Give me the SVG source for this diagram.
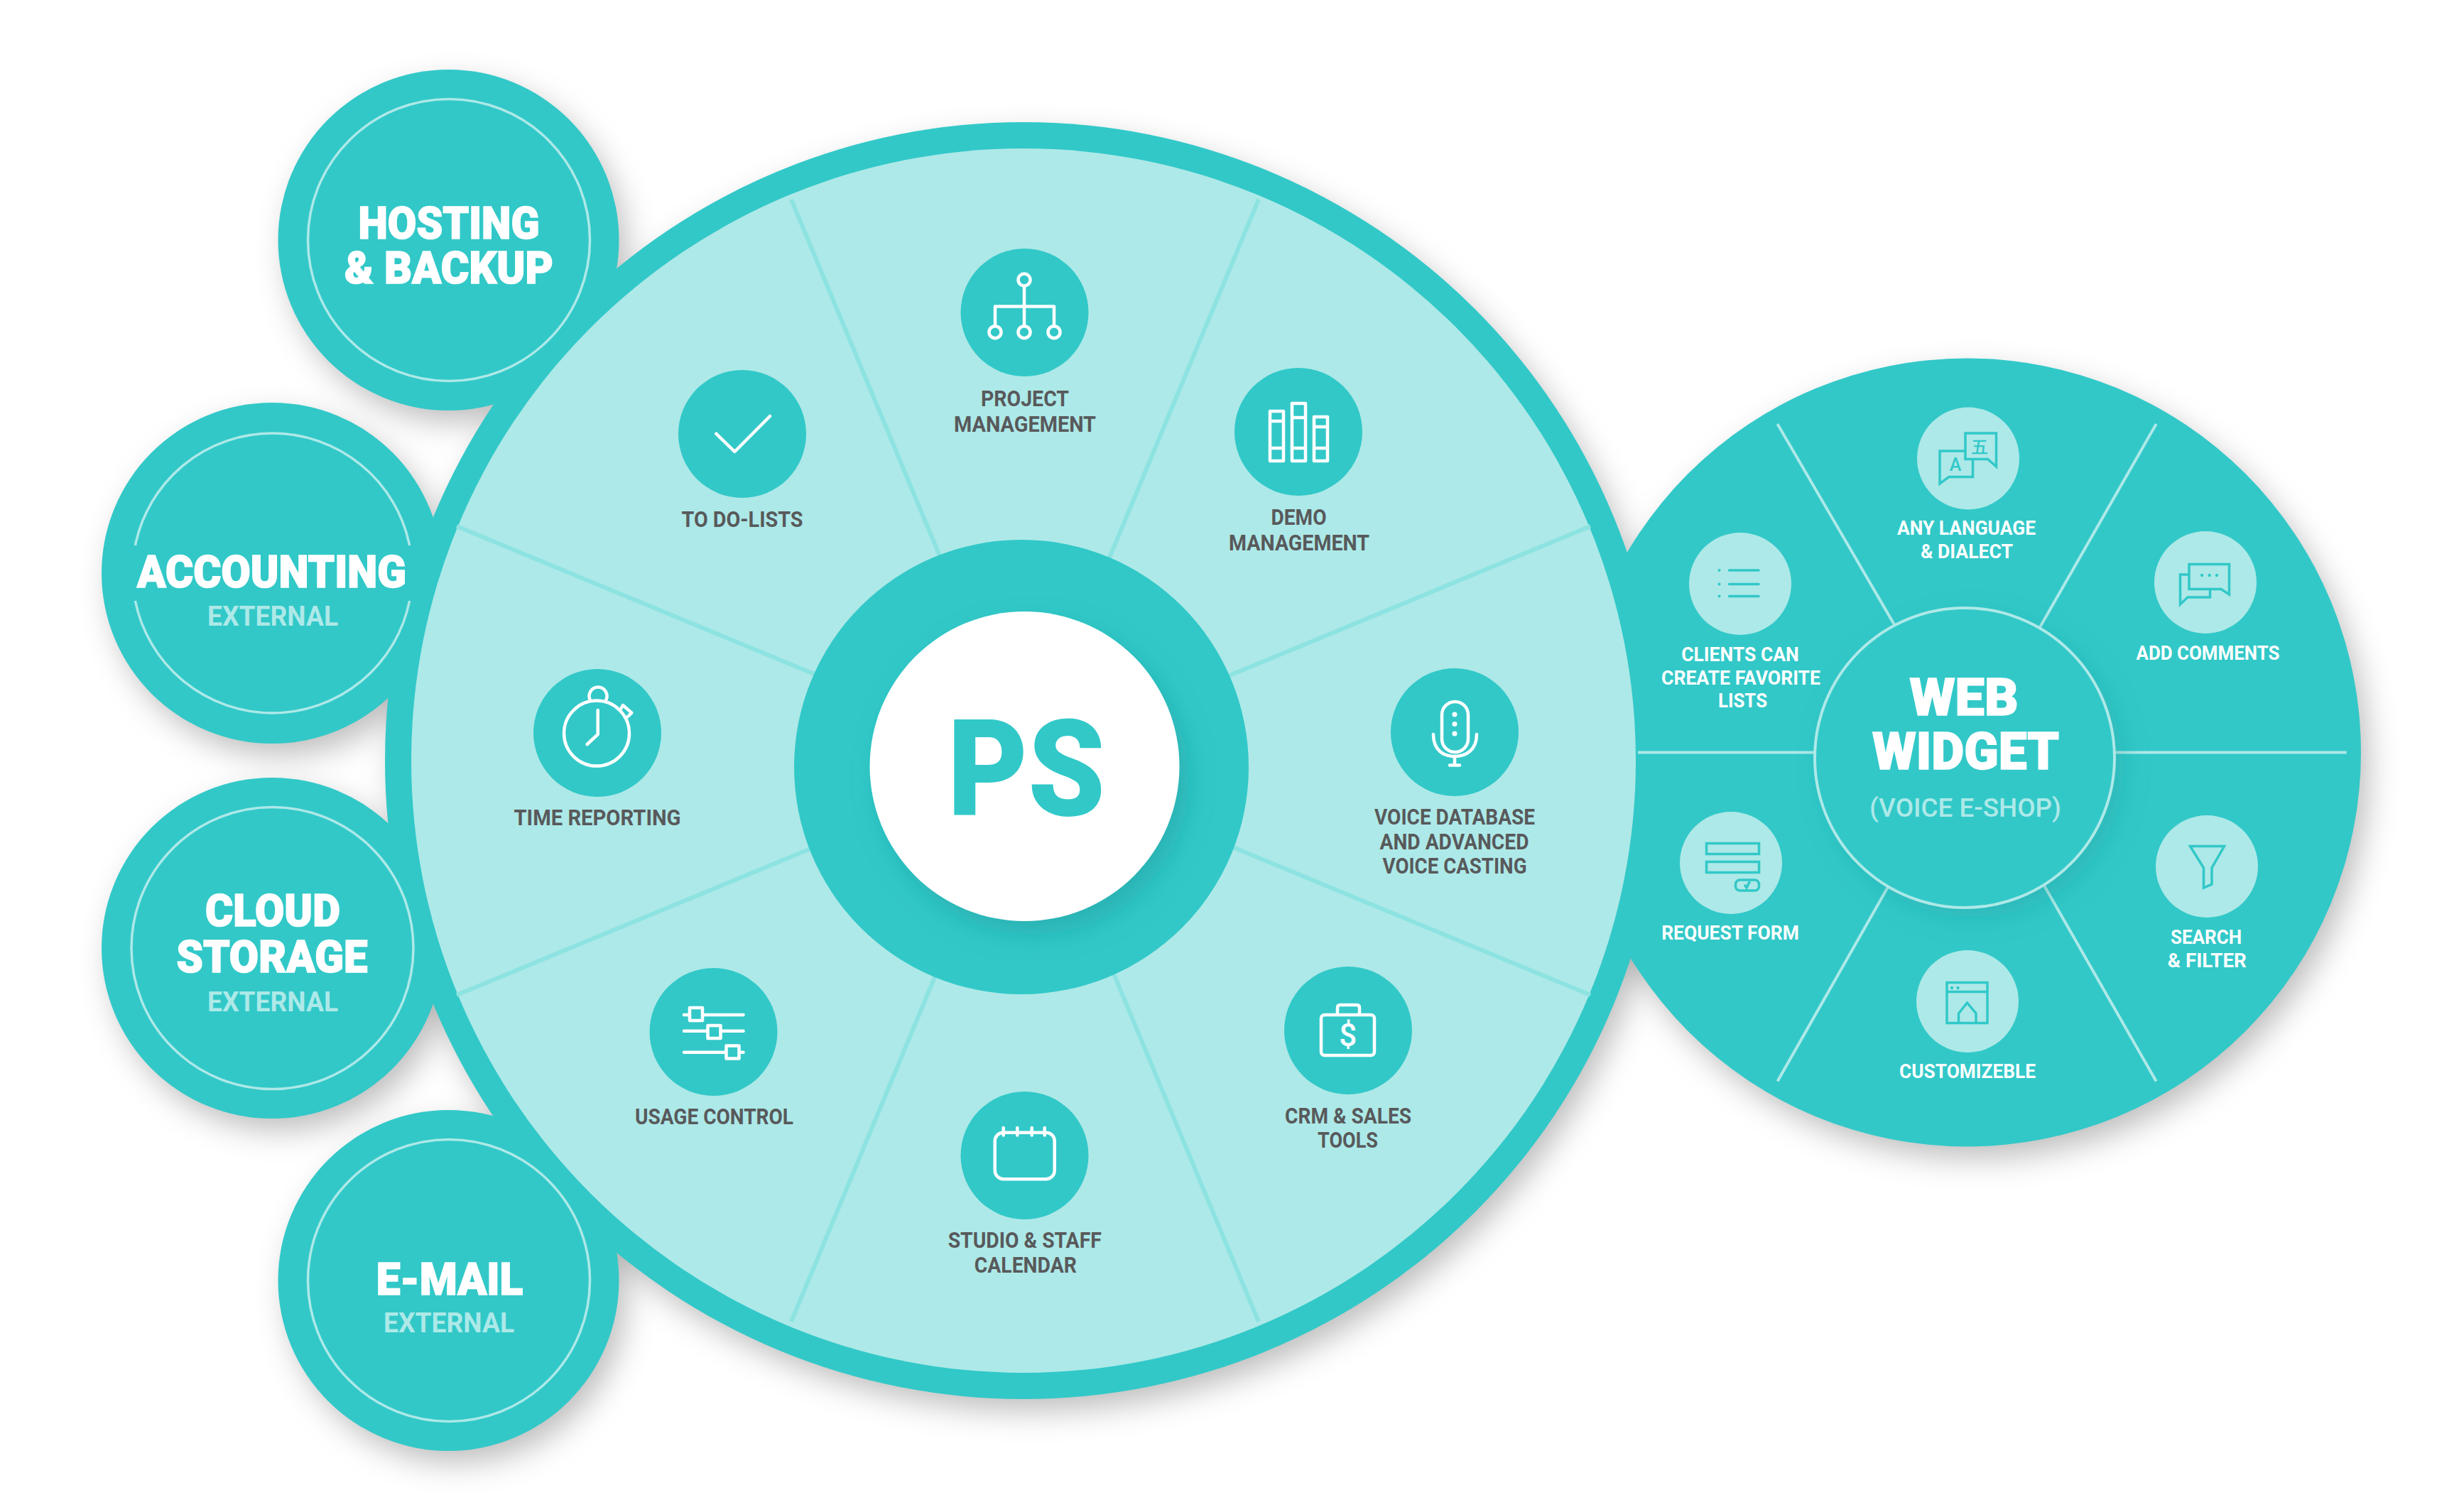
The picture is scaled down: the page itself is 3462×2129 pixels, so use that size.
<svg xmlns="http://www.w3.org/2000/svg" width="3462" height="2129" viewBox="0 0 3462 2129">
<defs>
<filter id="soft" filterUnits="userSpaceOnUse" x="0" y="0" width="3462" height="2129"><feGaussianBlur stdDeviation="22"/></filter>
<filter id="softIn" filterUnits="userSpaceOnUse" x="0" y="0" width="3462" height="2129"><feGaussianBlur stdDeviation="18"/></filter>
</defs>
<style>
text{font-family:Roboto,"Liberation Sans",sans-serif;text-anchor:middle}
.teal{fill:#32c8c8}
.pale{fill:#ade9e8}
.ring{fill:none;stroke:#ade9e8;stroke-width:3.5}
.lbl{font-size:31px;font-weight:700;fill:#58595b}
.wl{font-size:28px;font-weight:700;fill:#fff}
.h{font-size:63px;font-weight:900;fill:#fff;stroke:#fff;stroke-width:1.6}
.ext{font-size:38px;font-weight:700;fill:#ade9e8}
.ic{fill:none;stroke:#fff;stroke-width:4.5;stroke-linecap:round;stroke-linejoin:round}
.wic{fill:none;stroke:#32c8c8;stroke-width:3.5;stroke-linecap:round;stroke-linejoin:miter}
.sp{stroke:#8ce3e1;stroke-width:6;fill:none}
.wsp{stroke:#ade9e8;stroke-width:4;fill:none}
</style>
<rect width="3462" height="2129" fill="#fff"/>
<g id="shadows" filter="url(#soft)" fill="#000" fill-opacity=".26" transform="translate(12 18)">
<circle cx="631.5" cy="338" r="238"/><circle cx="383" cy="807" r="238"/><circle cx="383" cy="1335" r="238"/><circle cx="631.5" cy="1803" r="238"/>
<circle cx="1441" cy="1071" r="897"/><circle cx="2769" cy="1059.5" r="553"/>
</g>
<g id="node-web-widget-base"><circle class="teal" cx="2769" cy="1059.5" r="555"/></g>
<g id="node-platform-ring"><circle class="teal" cx="1441" cy="1071" r="899"/></g>
<g id="node-hosting"><circle class="teal" cx="631.5" cy="338" r="240"/><circle class="ring" cx="632" cy="338" r="198.5"/>
<text class="h" x="632" y="335.5" textLength="255" lengthAdjust="spacingAndGlyphs">HOSTING</text>
<text class="h" x="632" y="399" textLength="294" lengthAdjust="spacingAndGlyphs">&amp; BACKUP</text></g>
<g id="node-accounting"><circle class="teal" cx="383" cy="807" r="240"/><path class="ring" d="M190.4,768A197,197 0 0 1 576.6,768M576.6,846A197,197 0 0 1 190.4,846"/>
<text class="h" x="382.5" y="827" textLength="379" lengthAdjust="spacingAndGlyphs">ACCOUNTING</text>
<text class="ext" x="384" y="881" textLength="184" lengthAdjust="spacingAndGlyphs">EXTERNAL</text></g>
<g id="node-cloud"><circle class="teal" cx="383" cy="1335" r="240"/><circle class="ring" cx="383.5" cy="1335" r="198.5"/>
<text class="h" x="384" y="1304" textLength="190" lengthAdjust="spacingAndGlyphs">CLOUD</text>
<text class="h" x="383" y="1369" textLength="269" lengthAdjust="spacingAndGlyphs">STORAGE</text>
<text class="ext" x="384" y="1423.5" textLength="184" lengthAdjust="spacingAndGlyphs">EXTERNAL</text></g>
<g id="node-email"><circle class="teal" cx="631.5" cy="1803" r="240"/><circle class="ring" cx="632" cy="1803" r="198.5"/>
<text class="h" x="633" y="1823" textLength="206.6" lengthAdjust="spacingAndGlyphs">E-MAIL</text>
<text class="ext" x="632" y="1876" textLength="184" lengthAdjust="spacingAndGlyphs">EXTERNAL</text></g>
<g id="node-platform-disc"><circle class="pale" cx="1441" cy="1071" r="862"/></g>
<g id="connectors">
<path class="sp" d="M1114,281L1772,1861M1772,281L1114,1861M643,741L2239,1401M2239,741L643,1401"/>
<path class="wsp" d="M2306,1059.5H2560M2975,1059.5H3303.6M2502.5,597L2667,879.5M3035.7,597L2871.5,884M2502.5,1522.6L2658,1249M3035.7,1522.6L2878,1247"/>
</g>
<g id="node-ps">
<circle class="teal" cx="1438" cy="1080" r="320"/>
<circle cx="1455" cy="1097" r="218" fill="#1f8f92" fill-opacity=".4" filter="url(#softIn)"/>
<circle cx="1442.5" cy="1079" r="218" fill="#fff"/>
<text x="1445" y="1148" font-size="190" font-weight="900" fill="#32c8c8" textLength="222" lengthAdjust="spacingAndGlyphs">PS</text>
</g>
<g id="node-web-widget">
<circle cx="2778" cy="1080" r="211" fill="#1f8f92" fill-opacity=".3" filter="url(#softIn)"/>
<circle class="teal" cx="2766" cy="1067" r="211" stroke="#ade9e8" stroke-width="4"/>
<text class="h" x="2765" y="1006.7" style="font-size:72px" textLength="153" lengthAdjust="spacingAndGlyphs">WEB</text>
<text class="h" x="2767.5" y="1082.6" style="font-size:72px" textLength="263" lengthAdjust="spacingAndGlyphs">WIDGET</text>
<text x="2767" y="1149.5" font-size="36" font-weight="500" fill="#ade9e8" textLength="270" lengthAdjust="spacingAndGlyphs">(VOICE E-SHOP)</text>
</g>
<g id="node-project"><circle class="teal" cx="1442.5" cy="440" r="90"/>
<path class="ic" d="M1442,404V459M1401,459V431.5H1484V459"/><circle class="ic" cx="1442" cy="394" r="8.5"/><circle class="ic" cx="1401" cy="467.7" r="8.5"/><circle class="ic" cx="1442" cy="467.7" r="8.5"/><circle class="ic" cx="1484" cy="467.7" r="8.5"/>
<text class="lbl" x="1443" y="572" textLength="124" lengthAdjust="spacingAndGlyphs">PROJECT</text>
<text class="lbl" x="1443" y="608" textLength="200" lengthAdjust="spacingAndGlyphs">MANAGEMENT</text></g>
<g id="node-demo"><circle class="teal" cx="1828" cy="608" r="90"/>
<path class="ic" d="M1788,579h19v70h-19zM1788,593h19M1788,631h19M1819,568h19v81h-19zM1819,588h19M1819,631h19M1850,587h19v62h-19zM1850,601h19M1850,631h19"/>
<text class="lbl" x="1828.5" y="739" textLength="78" lengthAdjust="spacingAndGlyphs">DEMO</text>
<text class="lbl" x="1829" y="775" textLength="198" lengthAdjust="spacingAndGlyphs">MANAGEMENT</text></g>
<g id="node-todo"><circle class="teal" cx="1045" cy="611" r="90"/>
<path class="ic" d="M1008.3,610.7L1034.3,636L1084,586"/>
<text class="lbl" x="1045" y="741.5" textLength="171" lengthAdjust="spacingAndGlyphs">TO DO-LISTS</text></g>
<g id="node-time"><circle class="teal" cx="841" cy="1032" r="90"/>
<circle class="ic" cx="840" cy="1032.6" r="46"/>
<path class="ic" d="M830.5,985A12.5,12.5 0 1 1 853.5,985M841.7,1000V1034L826.7,1048M873,1000L877,993L889.3,1003.6L884,1009"/>
<text class="lbl" x="841" y="1162" textLength="235" lengthAdjust="spacingAndGlyphs">TIME REPORTING</text></g>
<g id="node-usage"><circle class="teal" cx="1004.5" cy="1453" r="90"/>
<path class="ic" d="M963,1429H1046.5M963,1451.8H1046.5M963,1481.7H1046.5"/>
<rect class="ic" style="fill:#32c8c8" x="971" y="1419" width="18" height="18"/><rect class="ic" style="fill:#32c8c8" x="996.5" y="1444" width="18" height="18"/><rect class="ic" style="fill:#32c8c8" x="1022.5" y="1472.5" width="18" height="18"/>
<text class="lbl" x="1005.5" y="1583" textLength="223" lengthAdjust="spacingAndGlyphs">USAGE CONTROL</text></g>
<g id="node-voice"><circle class="teal" cx="2048" cy="1031" r="90"/>
<rect class="ic" x="2030" y="988" width="37" height="71" rx="18.5"/>
<path class="ic" d="M2018,1034C2018,1056 2032,1065 2048,1065C2064,1065 2079,1056 2079,1034M2048,1065V1077M2041,1077.5H2055"/>
<circle cx="2048" cy="1006" r="3.5" fill="#fff"/><circle cx="2048" cy="1019.6" r="3.5" fill="#fff"/><circle cx="2048" cy="1033" r="3.5" fill="#fff"/>
<text class="lbl" x="2048" y="1161" textLength="226" lengthAdjust="spacingAndGlyphs">VOICE DATABASE</text>
<text class="lbl" x="2047.5" y="1196" textLength="210" lengthAdjust="spacingAndGlyphs">AND ADVANCED</text>
<text class="lbl" x="2048" y="1230" textLength="203" lengthAdjust="spacingAndGlyphs">VOICE CASTING</text></g>
<g id="node-crm"><circle class="teal" cx="1898" cy="1451" r="90"/>
<rect class="ic" x="1860" y="1429" width="75" height="57" rx="5"/>
<path class="ic" d="M1883,1428V1419Q1883,1415 1887,1415H1910Q1914,1415 1914,1419V1428"/>
<text x="1897.7" y="1472.5" font-size="44" font-weight="500" fill="#fff">$</text>
<text class="lbl" x="1898" y="1582" textLength="178" lengthAdjust="spacingAndGlyphs">CRM &amp; SALES</text>
<text class="lbl" x="1897.5" y="1616" textLength="85" lengthAdjust="spacingAndGlyphs">TOOLS</text></g>
<g id="node-calendar"><circle class="teal" cx="1442.5" cy="1627" r="90"/>
<rect class="ic" x="1400.7" y="1594.7" width="84" height="65.5" rx="12"/>
<path class="ic" d="M1412.7,1588V1598.5M1432.3,1588V1598.5M1452.7,1588V1598.5M1470.7,1588V1598.5"/>
<text class="lbl" x="1442.7" y="1757.3" textLength="216" lengthAdjust="spacingAndGlyphs">STUDIO &amp; STAFF</text>
<text class="lbl" x="1443.8" y="1792.3" textLength="144" lengthAdjust="spacingAndGlyphs">CALENDAR</text></g>
<g id="node-language"><circle class="pale" cx="2771" cy="645.5" r="72"/>
<path class="wic" d="M2765.6,635H2731V681L2744,671.4H2777.5V646.4M2767,646.4V610H2810.5V657L2798.6,646.4H2767Z"/>
<text x="2753" y="663" font-size="25" font-weight="500" fill="#32c8c8">A</text>
<text x="2787" y="638" font-size="24" font-weight="500" fill="#32c8c8" style="font-family:'Noto Sans CJK SC',sans-serif">五</text>
<text class="wl" x="2768.5" y="753" textLength="195" lengthAdjust="spacingAndGlyphs">ANY LANGUAGE</text>
<text class="wl" x="2769" y="786" textLength="130" lengthAdjust="spacingAndGlyphs">&amp; DIALECT</text></g>
<g id="node-favorites"><circle class="pale" cx="2450" cy="822" r="72"/>
<path class="wic" d="M2434.5,803H2476M2434.5,822.5H2476M2434.5,839.5H2476"/>
<circle class="teal" cx="2420.5" cy="803" r="2"/><circle class="teal" cx="2420.5" cy="822.5" r="2"/><circle class="teal" cx="2420.5" cy="839.5" r="2"/>
<text class="wl" x="2450" y="931" textLength="165.6" lengthAdjust="spacingAndGlyphs">CLIENTS CAN</text>
<text class="wl" x="2451" y="964" textLength="224" lengthAdjust="spacingAndGlyphs">CREATE FAVORITE</text>
<text class="wl" x="2453.5" y="996" textLength="69" lengthAdjust="spacingAndGlyphs">LISTS</text></g>
<g id="node-comments"><circle class="pale" cx="3105" cy="820" r="72"/>
<path class="wic" d="M3082,809H3069.5V851L3080,841H3111.5V829.5M3082,794.5H3138.5V837L3127,829.5H3082Z"/>
<circle class="teal" cx="3100" cy="810" r="2.2"/><circle class="teal" cx="3110.7" cy="810" r="2.2"/><circle class="teal" cx="3121" cy="810" r="2.2"/>
<text class="wl" x="3108.5" y="928.6" textLength="202" lengthAdjust="spacingAndGlyphs">ADD COMMENTS</text></g>
<g id="node-request"><circle class="pale" cx="2437" cy="1215" r="72"/>
<rect class="wic" x="2402.5" y="1187.5" width="74" height="15"/><rect class="wic" x="2402.5" y="1213.5" width="74" height="15"/><rect class="wic" x="2443.5" y="1239" width="33" height="15" rx="6"/>
<path class="wic" d="M2457,1247L2459,1250L2463,1242"/>
<text class="wl" x="2436" y="1323" textLength="193.6" lengthAdjust="spacingAndGlyphs">REQUEST FORM</text></g>
<g id="node-search"><circle class="pale" cx="3107" cy="1220" r="72"/>
<path class="wic" d="M3083.5,1191.5H3131.5L3114,1222V1245L3102.5,1250V1222Z"/>
<text class="wl" x="3106" y="1328.6" textLength="100" lengthAdjust="spacingAndGlyphs">SEARCH</text>
<text class="wl" x="3107.3" y="1361.5" textLength="111" lengthAdjust="spacingAndGlyphs">&amp; FILTER</text></g>
<g id="node-customizable"><circle class="pale" cx="2770" cy="1410" r="72"/>
<rect class="wic" x="2741" y="1383.5" width="57" height="57"/>
<path class="wic" d="M2741,1396.5H2798M2757.5,1440V1427L2769.5,1412L2782,1427V1440"/>
<circle class="teal" cx="2748" cy="1391" r="2.2"/><circle class="teal" cx="2756.5" cy="1391" r="2.2"/>
<text class="wl" x="2770" y="1518.4" textLength="192" lengthAdjust="spacingAndGlyphs">CUSTOMIZEBLE</text></g>
</svg>
